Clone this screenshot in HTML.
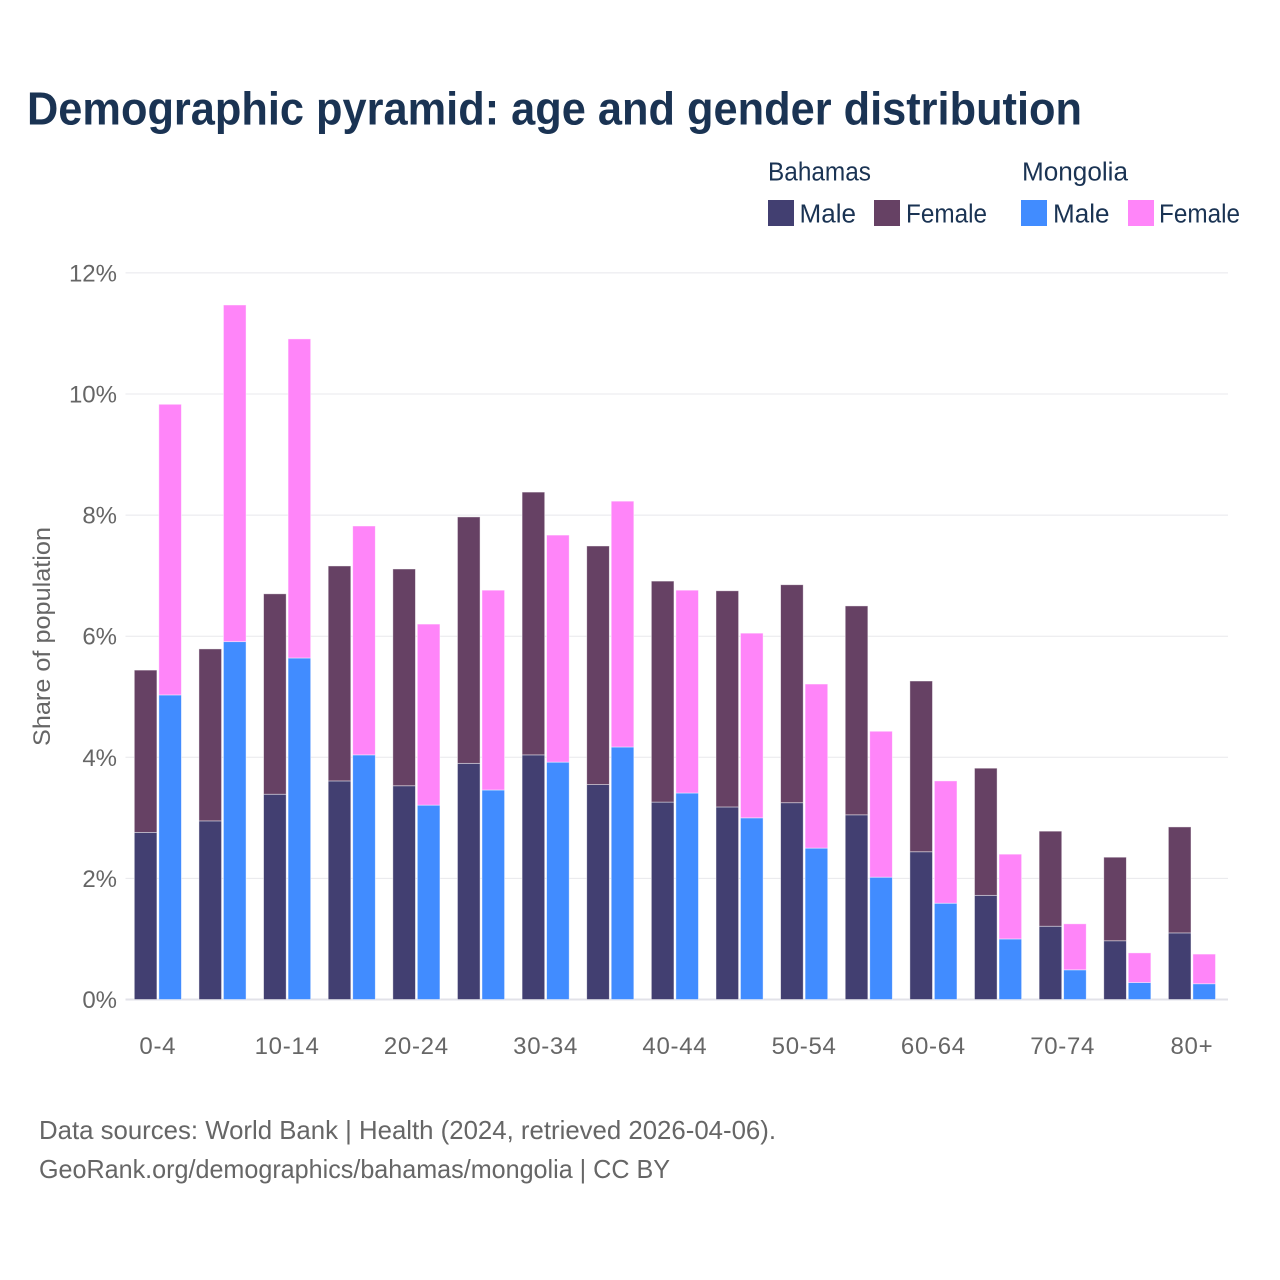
<!DOCTYPE html>
<html lang="en">
<head>
<meta charset="utf-8">
<title>Demographic pyramid</title>
<style>
html,body{margin:0;padding:0;background:#fff;}
svg{display:block;font-family:"Liberation Sans",Arial,sans-serif;}
</style>
</head>
<body>
<svg id="chart" xmlns="http://www.w3.org/2000/svg" width="1280" height="1280" viewBox="0 0 1280 1280">
  <rect width="1280" height="1280" fill="#fff"/>
  <text x="27" y="124.5" font-size="46" font-weight="700" fill="#1a3353" textLength="1055" lengthAdjust="spacingAndGlyphs">Demographic pyramid: age and gender distribution</text>

  <g font-size="25.5" fill="#1a3353">
    <text x="768" y="180.5" textLength="103" lengthAdjust="spacingAndGlyphs">Bahamas</text>
    <text x="1022" y="180.5" textLength="106" lengthAdjust="spacingAndGlyphs">Mongolia</text>
    <rect x="768" y="200" width="26" height="26" fill="#423f71"/>
    <text x="799.5" y="222.5" textLength="56.5" lengthAdjust="spacingAndGlyphs">Male</text>
    <rect x="874" y="200" width="26" height="26" fill="#664164"/>
    <text x="906" y="222.5" textLength="81" lengthAdjust="spacingAndGlyphs">Female</text>
    <rect x="1021" y="200" width="26" height="26" fill="#418cff"/>
    <text x="1053" y="222.5" textLength="56.5" lengthAdjust="spacingAndGlyphs">Male</text>
    <rect x="1128" y="200" width="26" height="26" fill="#ff85f9"/>
    <text x="1159" y="222.5" textLength="81" lengthAdjust="spacingAndGlyphs">Female</text>
  </g>

  <g id="grid"></g>
  <g id="y-labels" font-size="24" fill="#666" text-anchor="end"></g>
  <g id="bars"></g>
  <g id="x-labels" font-size="24" fill="#666" text-anchor="middle" letter-spacing="0.7"></g>

  <text transform="translate(50,636.5) rotate(-90)" text-anchor="middle" font-size="24" fill="#666" textLength="219" lengthAdjust="spacingAndGlyphs">Share of population</text>

  <text x="39" y="1139" font-size="26" fill="#666" textLength="737" lengthAdjust="spacingAndGlyphs">Data sources: World Bank | Health (2024, retrieved 2026-04-06).</text>
  <text x="39" y="1178" font-size="26" fill="#666" textLength="631" lengthAdjust="spacingAndGlyphs">GeoRank.org/demographics/bahamas/mongolia | CC BY</text>
</svg>
<script>
const ageGroups = ["0-4","5-9","10-14","15-19","20-24","25-29","30-34","35-39","40-44","45-49","50-54","55-59","60-64","65-69","70-74","75-79","80+"];
const xTickLabels = ["0-4","10-14","20-24","30-34","40-44","50-54","60-64","70-74","80+"];
const yTicks = [0,2,4,6,8,10,12];
const bahamasMale = [2.76,2.95,3.39,3.61,3.53,3.90,4.04,3.55,3.26,3.18,3.25,3.05,2.44,1.72,1.21,0.97,1.10];
const bahamasFemale = [2.68,2.84,3.31,3.55,3.58,4.07,4.34,3.94,3.65,3.57,3.60,3.45,2.82,2.10,1.57,1.38,1.75];
const mongoliaMale = [5.03,5.91,5.64,4.04,3.21,3.46,3.92,4.17,3.41,3.00,2.50,2.02,1.59,1.00,0.49,0.28,0.26];
const mongoliaFemale = [4.80,5.56,5.27,3.78,2.99,3.30,3.75,4.06,3.35,3.05,2.71,2.41,2.02,1.40,0.76,0.49,0.49];

const NS = "http://www.w3.org/2000/svg";
const plotLeft = 125.5, plotRight = 1228, bandStep = 64.63, barWidth = 22.6, barGap = 2;
const yZero = 999.5, pxPerUnit = 60.55;
function yScale(v){ return yZero - v * pxPerUnit; }
function xCenter(i){ return plotLeft + bandStep * (i + 0.5); }
function make(tag, attrs, parent){
  const el = document.createElementNS(NS, tag);
  for (const k in attrs) el.setAttribute(k, attrs[k]);
  parent.appendChild(el);
  return el;
}
const gridG = document.getElementById("grid");
const yLabelG = document.getElementById("y-labels");
const barsG = document.getElementById("bars");
const xLabelG = document.getElementById("x-labels");

yTicks.forEach(function(t){
  const line = make("line", {x1: plotLeft, x2: plotRight, y1: yScale(t), y2: yScale(t), stroke: t === 0 ? "#e2e2e8" : "#e8e8ec", "stroke-width": t === 0 ? 2 : 1}, gridG);
  
  
  const label = make("text", {x: 117, y: yScale(t) + 8.5}, yLabelG);
  
  
  label.textContent = t + "%";
});

function drawSegment(x, bottom, value, fill, name){
  const top = yScale(bottom + value);
  const rect = make("rect", {x: x, y: top, width: barWidth, height: yScale(bottom) - top, fill: fill, stroke: "#fff", "stroke-opacity": 0.55, "stroke-width": 0.8}, barsG);
  
  
}
ageGroups.forEach(function(g, i){
  const c = xCenter(i);
  const xLeft = c - barGap / 2 - barWidth + 0.1;
  const xRight = c + barGap / 2;
  drawSegment(xLeft, 0, bahamasMale[i], "#423f71", "bar-bahamas-male");
  drawSegment(xLeft, bahamasMale[i], bahamasFemale[i], "#664164", "bar-bahamas-female");
  drawSegment(xRight, 0, mongoliaMale[i], "#418cff", "bar-mongolia-male");
  drawSegment(xRight, mongoliaMale[i], mongoliaFemale[i], "#ff85f9", "bar-mongolia-female");
});
xTickLabels.forEach(function(lab){
  const i = ageGroups.indexOf(lab);
  const label = make("text", {x: xCenter(i), y: 1054}, xLabelG);
  
  
  label.textContent = lab;
});
</script>
</body>
</html>
